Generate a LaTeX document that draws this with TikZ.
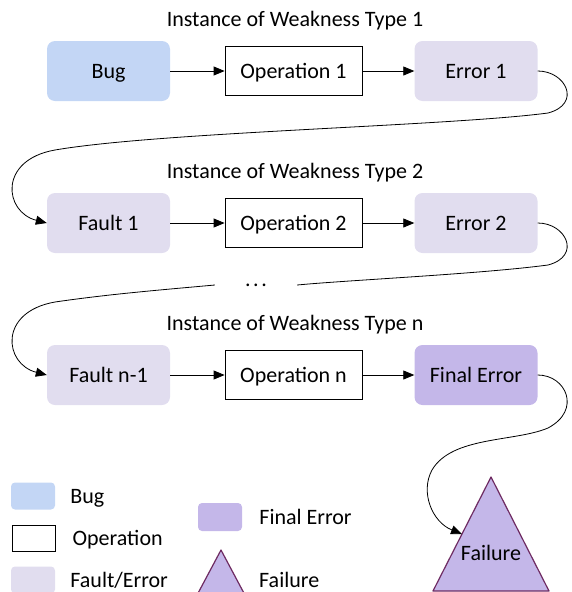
\documentclass[tikz,border=0pt]{standalone}
\usepackage{fontspec}
\setmainfont{Carlito}
\usetikzlibrary{arrows.meta, positioning}
\definecolor{bugblue}{HTML}{C3D6F5}
\definecolor{faultgray}{HTML}{E1DDEF}
\definecolor{finalpurple}{HTML}{C4B7E9}
\definecolor{failline}{HTML}{6E2B62}

\begin{document}
\begin{tikzpicture}[x=1pt,y=-1pt,
  every node/.style={font=\fontsize{22}{26}\selectfont,text height=20pt,text depth=5pt},
  bugbox/.style={fill=bugblue,rounded corners=8pt,minimum width=123pt,minimum height=60pt,inner sep=0pt},
  faultbox/.style={bugbox,fill=faultgray},
  finalbox/.style={bugbox,fill=finalpurple},
  opbox/.style={draw,line width=0.8pt,fill=white,minimum width=137pt,minimum height=49pt,inner sep=0pt},
  flow/.style={-{Triangle[length=11pt,width=9pt]},line width=0.8pt},
  curvy/.style={line width=0.8pt},
  failtri/.style={fill=finalpurple,draw=failline,line width=1.2pt,line join=round},
  keybox/.style={rounded corners=4pt,minimum width=44pt,minimum height=27pt,inner sep=0pt},
  keytext/.style={inner sep=0pt}]
\useasboundingbox (0,0) rectangle (572,592);
\clip (0,0) rectangle (572,592);

\node (t1) at (295,19) {Instance of Weakness Type 1};%第一行
\node[bugbox] (bug) at (108.5,71) {Bug};
\node[opbox] (op1) at (293.5,71) {Operation 1};
\node[faultbox] (e1) at (476,71) {Error 1};
\draw[flow] (bug) -- (op1);
\draw[flow] (op1) -- (e1);

\node (t2) at (295,171) {Instance of Weakness Type 2};%第二行
\node[faultbox] (f1) at (108.5,223) {Fault 1};
\node[opbox] (op2) at (293.5,223) {Operation 2};
\node[faultbox] (e2) at (476,223) {Error 2};
\draw[flow] (f1) -- (op2);
\draw[flow] (op2) -- (e2);

\node[inner sep=0pt,minimum width=82pt,text height=2pt,text depth=0pt] (dots) at (256,285) {.\kern2.5pt.\kern2.5pt.};

\node (t3) at (295,323) {Instance of Weakness Type n};%第三行
\node[faultbox] (fn) at (108.5,375) {Fault n-1};
\node[opbox] (opn) at (293.5,375) {Operation n};
\node[finalbox] (fe) at (476,375) {Final Error};
\draw[flow] (fn) -- (opn);
\draw[flow] (opn) -- (fe);

\draw[failtri] (433,591) -- (491,477) -- (549,591) -- cycle;%失效
\node (fail) at (491,553) {Failure};
\coordinate (failin) at (462,534);

\draw[flow] (e1.east) .. controls (566,71) and (582,104) .. (548,113)
  .. controls (450,126) and (160,132) .. (55,150)
  .. controls (-2,160) and (4,212) .. (f1.west);
\draw[curvy] (e2.east) .. controls (566,223) and (582,256) .. (548,265)
  .. controls (480,274) and (350,280) .. (dots.east);
\draw[flow] (dots.west) .. controls (160,290) and (110,294) .. (55,302)
  .. controls (-2,312) and (4,364) .. (fn.west);
\draw[flow] (fe.east) .. controls (566,375) and (582,410) .. (548,428)
  .. controls (515,442) and (452,436) .. (432,470)
  .. controls (420,492) and (432,522) .. (failin);

\node[keybox,fill=bugblue] (kbug) at (33,496) {};%图例
\node[keytext,right=15pt of kbug] (kbugt) {Bug};
\node[draw,line width=0.8pt,minimum width=43pt,minimum height=26pt,inner sep=0pt] (kop) at (33.5,538) {};
\node[keytext,right=17pt of kop] (kopt) {Operation};
\node[keybox,fill=faultgray] (kfault) at (33,580) {};
\node[keytext,right=15pt of kfault] (kfaultt) {Fault/Error};
\node[keybox,fill=finalpurple,minimum height=28pt] (kfinal) at (220,517) {};
\node[keytext,right=17pt of kfinal] (kfinalt) {Final Error};
\draw[failtri] (221,550) -- (188,612) -- (254,612) -- cycle;
\node[keytext,anchor=west] (kfailt) at (259,580) {Failure};
\end{tikzpicture}
\end{document}
